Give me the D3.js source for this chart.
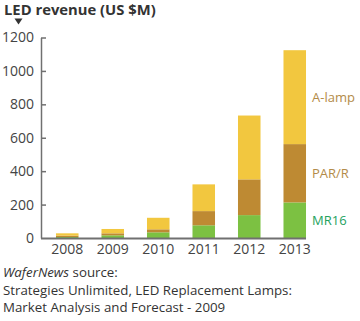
<!DOCTYPE html>
<html>
<head>
<meta charset="utf-8">
<script src="https://cdn.jsdelivr.net/npm/d3@7"></script>
<style>
  body { margin: 0; background: #fff; }
  svg { display: block; font-family: "Open Sans", "DejaVu Sans", sans-serif; }
</style>
</head>
<body>
<div class="graph-container"></div>
<script>
// revenue by lamp type, US $M
var years = ['2008', '2009', '2010', '2011', '2012', '2013'];
var mr16 = [6, 16, 34, 76, 137, 213];
var parR = [8, 12, 18, 85, 214, 349];
var aLamp = [14, 26, 69, 160, 382, 562];
var seriesNames = ['MR16', 'PAR/R', 'A-lamp'];
var yTicks = [0, 200, 400, 600, 800, 1000, 1200];

var svgWidth = 360;
var svgHeight = 321;

var barColors = { 'MR16': '#7cc142', 'PAR/R': '#be8a33', 'A-lamp': '#f2c73f' };
var labelColors = { 'MR16': '#23a25e', 'PAR/R': '#b38b49', 'A-lamp': '#b38b49' };

var svg = d3.select('.graph-container').append('svg')
  .attr('width', svgWidth)
  .attr('height', svgHeight);

// stacked table built from the arrays above
var table = years.map(function(y, i) {
  return { year: y, 'MR16': mr16[i], 'PAR/R': parR[i], 'A-lamp': aLamp[i] };
});
var stacked = d3.stack().keys(seriesNames)(table);

var xScale = d3.scaleBand()
  .domain(years)
  .range([44.5, 317.5])
  .paddingInner(0.505)
  .paddingOuter(0.2525);

var yScale = d3.scaleLinear()
  .domain([0, 1200])
  .range([238, 37.5]);

// title with the little pointer under it
svg.append('text')
  .attr('x', 4)
  .attr('y', 14.5)
  .style('font-size', '14.8px')
  .style('font-weight', 'bold')
  .style('fill', '#333')
  .text('LED revenue (US $M)');

svg.append('path')
  .attr('d', 'M14.5,18.5 L22.5,18.5 L18.5,24.5 Z')
  .attr('fill', '#333');

// bars
svg.selectAll('g.series')
  .data(stacked)
  .enter()
  .append('g')
  .attr('class', 'series')
  .attr('fill', function(d) { return barColors[d.key]; })
  .selectAll('rect')
  .data(function(d) { return d; })
  .enter()
  .append('rect')
  .attr('x', function(d) { return xScale(d.data.year); })
  .attr('width', xScale.bandwidth())
  .attr('y', function(d) { return yScale(d[1]); })
  .attr('height', function(d) { return yScale(d[0]) - yScale(d[1]); });

// y axis, ticks point into the plot
var yAxis = d3.axisLeft(yScale)
  .tickValues(yTicks)
  .tickFormat(d3.format('d'))
  .tickSizeInner(-5)
  .tickSizeOuter(0)
  .tickPadding(7);

var yG = svg.append('g')
  .attr('transform', 'translate(41,0)')
  .call(yAxis);
yG.select('.domain').attr('stroke', '#707070').attr('stroke-width', 1.5);
yG.selectAll('.tick line').attr('stroke', '#707070').attr('stroke-width', 1.5);
yG.selectAll('.tick text')
  .style('font-size', '14px')
  .style('font-family', '"Open Sans", sans-serif')
  .attr('fill', '#444');
yG.selectAll('.tick').filter(function(d) { return d === 0; }).select('line').remove();

// x axis
var xAxis = d3.axisBottom(xScale).tickSize(0).tickPadding(6);
var xG = svg.append('g')
  .attr('transform', 'translate(0,' + yScale(0) + ')')
  .call(xAxis);
xG.select('.domain').remove();
xG.selectAll('.tick text')
  .style('font-size', '14px')
  .style('font-family', '"Open Sans", sans-serif')
  .attr('fill', '#444');

var last = years[years.length - 1];
svg.append('line')
  .attr('x1', 41)
  .attr('x2', xScale(last) + xScale.bandwidth())
  .attr('y1', yScale(0) + 0.5)
  .attr('y2', yScale(0) + 0.5)
  .attr('stroke', '#707070')
  .attr('stroke-width', 2);

// series names beside the last bar, centred on each segment
svg.selectAll('text.series-label')
  .data(stacked)
  .enter()
  .append('text')
  .attr('class', 'series-label')
  .attr('x', xScale(last) + xScale.bandwidth() + 6)
  .attr('y', function(d) {
    var seg = d[d.length - 1];
    return (yScale(seg[0]) + yScale(seg[1])) / 2;
  })
  .attr('dy', '0.35em')
  .style('font-size', '13px')
  .attr('fill', function(d) { return labelColors[d.key]; })
  .text(function(d) { return d.key; });

// source note
var note = svg.append('g').style('font-size', '13.3px').attr('fill', '#333');
var line1 = note.append('text').attr('x', 3).attr('y', 277);
line1.append('tspan').style('font-style', 'italic').text('WaferNews');
line1.append('tspan').text(' source:');
note.append('text').attr('x', 3).attr('y', 294.5)
  .text('Strategies Unlimited, LED Replacement Lamps:');
note.append('text').attr('x', 3).attr('y', 312)
  .text('Market Analysis and Forecast - 2009');
</script>
</body>
</html>
